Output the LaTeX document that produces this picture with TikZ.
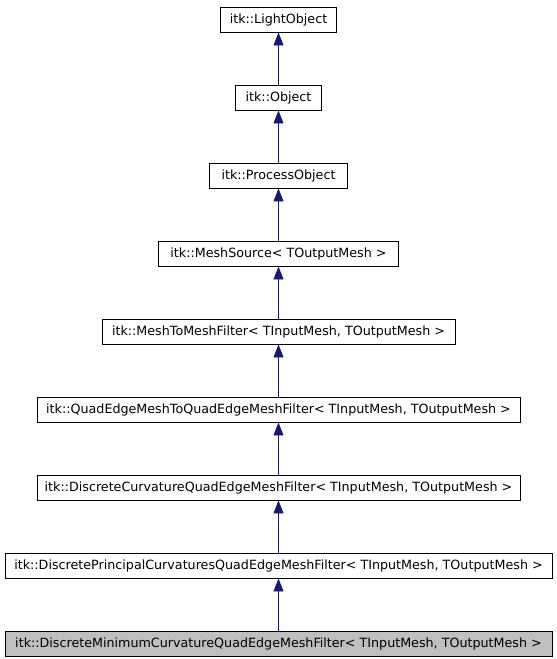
\documentclass[tikz,border=0pt]{standalone}
\usepackage{fontspec}
\setmainfont{DejaVu Sans}
\usetikzlibrary{arrows.meta}
\definecolor{edgeblue}{HTML}{191970}
\definecolor{curgray}{HTML}{BFBFBF}
\tikzset{
  cls/.style={draw=black, line width=0.9pt, fill=white, minimum height=25pt, inner sep=0pt,
    font=\fontsize{12.7}{14}\selectfont, anchor=center},
  cur/.style={cls, fill=curgray},
  inh/.style={draw=edgeblue, line width=0.9pt, -{Triangle[width=10pt,length=13pt]}, fill=edgeblue}
}
\begin{document}
\begin{tikzpicture}[x=1pt,y=-1pt]
\useasboundingbox (0,0) rectangle (557,659);
\node[cls, minimum width=116pt] (n1) at (278.5,19.5) {itk::LightObject};
\node[cls, minimum width=86pt] (n2) at (278.5,97.5) {itk::Object};
\node[cls, minimum width=138pt] (n3) at (278.5,175.5) {itk::ProcessObject};
\node[cls, minimum width=240pt] (n4) at (278.5,253.5) {itk::MeshSource< TOutputMesh >};
\node[cls, minimum width=353pt] (n5) at (278.5,331.5) {itk::MeshToMeshFilter< TInputMesh, TOutputMesh >};
\node[cls, minimum width=483pt] (n6) at (278.5,409.5) {itk::QuadEdgeMeshToQuadEdgeMeshFilter< TInputMesh, TOutputMesh >};
\node[cls, minimum width=483pt] (n7) at (278.5,487.5) {itk::DiscreteCurvatureQuadEdgeMeshFilter< TInputMesh, TOutputMesh >};
\node[cls, minimum width=547pt] (n8) at (278.5,565.5) {itk::DiscretePrincipalCurvaturesQuadEdgeMeshFilter< TInputMesh, TOutputMesh >};
\node[cur, minimum width=547pt] (n9) at (278.5,643.5) {itk::DiscreteMinimumCurvatureQuadEdgeMeshFilter< TInputMesh, TOutputMesh >};
\draw[inh] (n2.north) -- (n1.south);
\draw[inh] (n3.north) -- (n2.south);
\draw[inh] (n4.north) -- (n3.south);
\draw[inh] (n5.north) -- (n4.south);
\draw[inh] (n6.north) -- (n5.south);
\draw[inh] (n7.north) -- (n6.south);
\draw[inh] (n8.north) -- (n7.south);
\draw[inh] (n9.north) -- (n8.south);
\end{tikzpicture}
\end{document}
